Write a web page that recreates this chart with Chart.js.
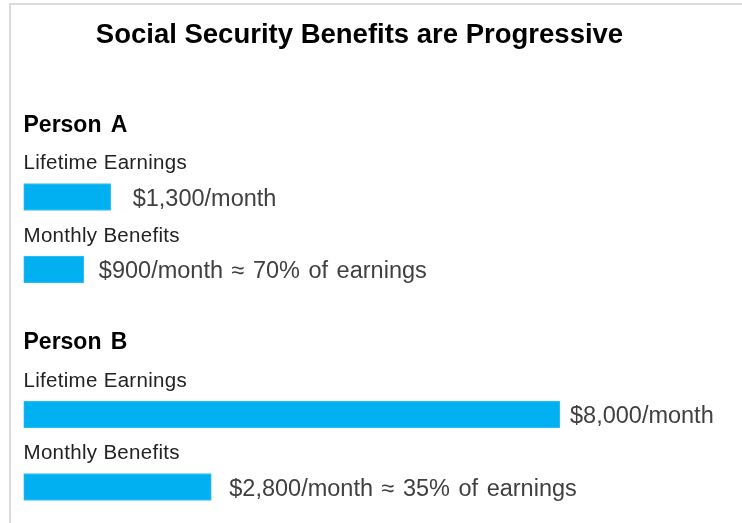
<!DOCTYPE html>
<html>
<head>
<meta charset="utf-8">
<script src="https://cdn.jsdelivr.net/npm/chart.js@4"></script>
<style>
    html, body { margin: 0; padding: 0; background: #fff; overflow: hidden; }
    body { width: 742px; height: 523px; position: relative; }
    .frame {
        position: absolute; left: 9px; top: 3px; width: 760px; height: 540px;
        border-top: 2px solid #dadada; border-left: 2px solid #dadada;
    }
    .wrap { position: absolute; left: 0; top: 0; width: 742px; height: 530px; }
</style>
</head>
<body>
<div class="frame"></div>
<div class="wrap"><canvas id="benefitsChart"></canvas></div>
<script>
// rows of the chart: headings have no bar
var categories = ['Person A', 'Lifetime Earnings', 'Monthly Benefits', 'Person B', 'Lifetime Earnings', 'Monthly Benefits'];
var monthlyAmounts = [null, 1300, 900, null, 8000, 2800];
var earningsShare = ['', '', '70%', '', '', '35%'];

var titleText = 'Social Security Benefits are Progressive';
var labelGaps = [0, 22, 15, 0, 10, 18]; // space between bar end and value text

function valueLabel(i) {
    var txt = '$' + monthlyAmounts[i].toLocaleString('en-US') + '/month';
    if (earningsShare[i]) txt += ' \u2248 ' + earningsShare[i] + ' of earnings';
    return txt;
}

var textPlugin = {
    id: 'textPlugin',
    afterDatasetsDraw: function (chart) {
        var ctx = chart.ctx;
        var xs = chart.scales.x;
        var ys = chart.scales.y;
        ctx.save();
        ctx.textBaseline = 'alphabetic';

        // title
        ctx.fillStyle = '#000';
        ctx.font = 'bold 27.5px "Liberation Sans", Arial, sans-serif';
        ctx.textAlign = 'center';
        ctx.fillText(titleText, 359.5, 43);

        ctx.textAlign = 'left';
        categories.forEach(function (cat, i) {
            var yc = ys.getPixelForValue(i);
            if (monthlyAmounts[i] === null) {
                ctx.fillStyle = '#000';
                ctx.font = 'bold 23px "Liberation Sans", Arial, sans-serif';
                ctx.letterSpacing = '0px';
                ctx.wordSpacing = '3px';
                ctx.fillText(cat, 23.5, yc + 7);
                return;
            }
            // row name above the bar
            ctx.fillStyle = '#222';
            ctx.font = '20.5px "Liberation Sans", Arial, sans-serif';
            ctx.letterSpacing = '0.3px';
            ctx.wordSpacing = '0px';
            ctx.fillText(cat, 23.5, yc - 28);
            // value next to the bar
            ctx.letterSpacing = '0px';
            ctx.wordSpacing = '2px';
            ctx.fillStyle = '#404040';
            ctx.font = '23.5px "Liberation Sans", Arial, sans-serif';
            ctx.fillText(valueLabel(i), xs.getPixelForValue(monthlyAmounts[i]) + labelGaps[i], yc + 8.5);
        });
        ctx.restore();
    }
};

var ctx = document.getElementById('benefitsChart').getContext('2d');
var benefitsChart = new Chart(ctx, {
    type: 'bar',
    data: {
        labels: categories,
        datasets: [{
            label: 'Monthly amount',
            data: monthlyAmounts,
            backgroundColor: '#00B0F0',
            borderColor: '#3cc0f2',
            borderWidth: 1,
            borderSkipped: false,
            barThickness: 27
        }]
    },
    options: {
        indexAxis: 'y',
        responsive: true,
        maintainAspectRatio: false,
        animation: false,
        layout: {
            padding: { left: 23.5, right: 182, top: 88.25, bottom: 6.75 }
        },
        scales: {
            x: { display: false, min: 0, max: 8000 },
            y: { display: false }
        },
        plugins: {
            legend: { display: false },
            tooltip: { enabled: false },
            title: { display: false }
        }
    },
    plugins: [textPlugin]
});
</script>
</body>
</html>
